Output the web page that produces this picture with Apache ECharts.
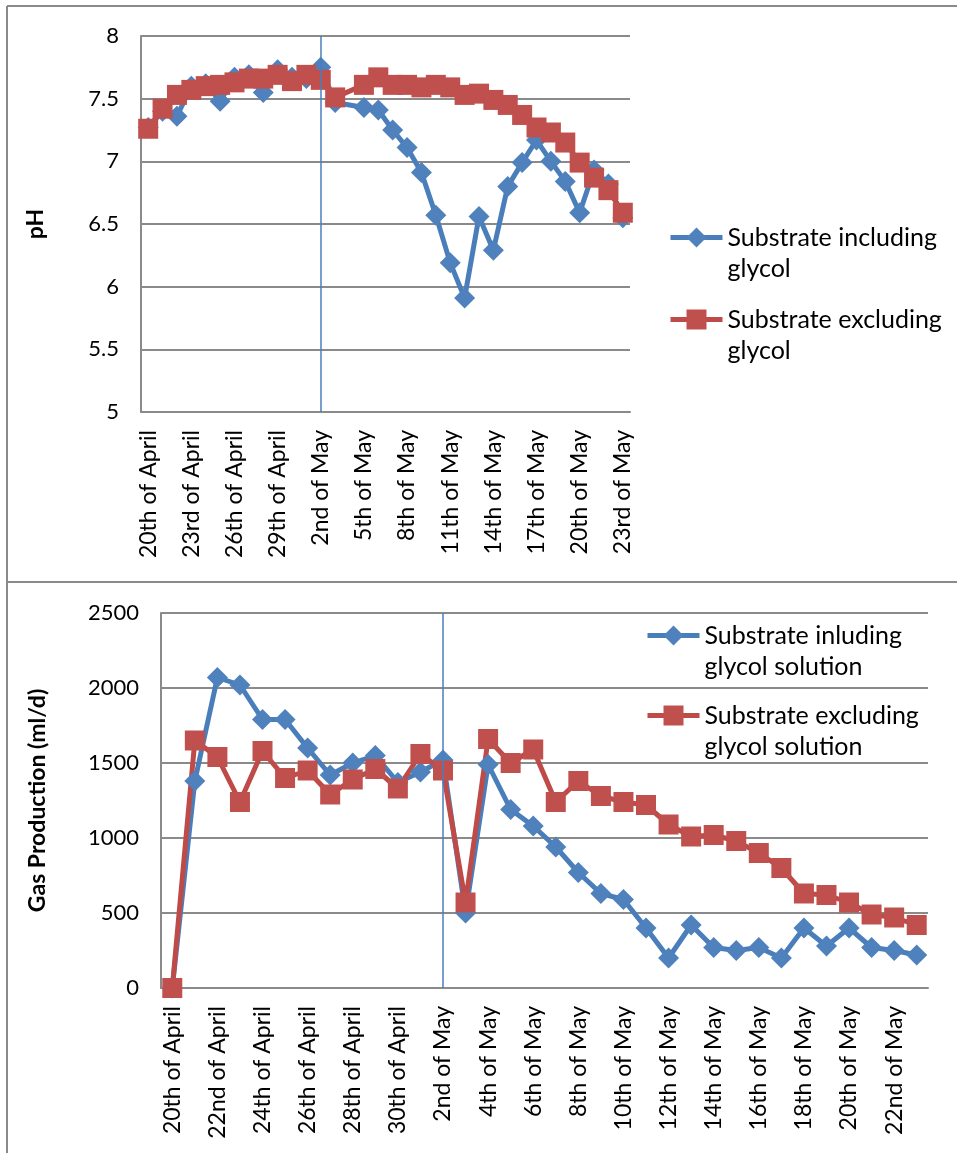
<!DOCTYPE html>
<html>
<head>
<meta charset="utf-8">
<script src="https://cdn.jsdelivr.net/npm/echarts@6/dist/echarts.min.js"></script>
<style>
  html, body { margin: 0; padding: 0; background: #ffffff; }
  #chart { width: 957px; height: 1153px; }
</style>
</head>
<body>
<div id="chart"></div>
<script>
// Sampling days, 20 April to 23 May
const days = [
  '20th of April', '21st of April', '22nd of April', '23rd of April', '24th of April',
  '25th of April', '26th of April', '27th of April', '28th of April', '29th of April',
  '30th of April', '1st of May', '2nd of May', '3rd of May', '4th of May',
  '5th of May', '6th of May', '7th of May', '8th of May', '9th of May',
  '10th of May', '11th of May', '12th of May', '13th of May', '14th of May',
  '15th of May', '16th of May', '17th of May', '18th of May', '19th of May',
  '20th of May', '21st of May', '22nd of May', '23rd of May'
];

// Day on which the substrate feed changed
const switchDay = '2nd of May';

// pH readings (no reading on 4th of May)
const phIncludingGlycol = [
  7.27, 7.40, 7.36, 7.60, 7.62, 7.48, 7.67, 7.69, 7.55, 7.73,
  7.67, 7.66, 7.75, 7.47, null, 7.43, 7.41, 7.25, 7.11, 6.91,
  6.57, 6.19, 5.91, 6.56, 6.29, 6.80, 6.99, 7.17, 7.00, 6.84,
  6.59, 6.93, 6.82, 6.55
];
const phExcludingGlycol = [
  7.26, 7.42, 7.53, 7.57, 7.60, 7.61, 7.63, 7.66, 7.66, 7.69,
  7.64, 7.69, 7.65, 7.51, null, 7.61, 7.67, 7.61, 7.61, 7.59,
  7.61, 7.59, 7.53, 7.54, 7.49, 7.45, 7.37, 7.27, 7.23, 7.15,
  6.99, 6.87, 6.77, 6.59
];

// Daily gas production, ml/d
const gasIncludingGlycol = [
  0, 1380, 2070, 2020, 1790, 1790, 1600, 1420, 1500, 1550,
  1370, 1440, 1520, 500, 1490, 1190, 1080, 940, 770, 630,
  590, 400, 200, 420, 270, 250, 270, 200, 400, 280,
  400, 270, 250, 220
];
const gasExcludingGlycol = [
  0, 1650, 1540, 1240, 1580, 1400, 1450, 1290, 1390, 1460,
  1330, 1560, 1450, 570, 1660, 1500, 1590, 1240, 1380, 1280,
  1240, 1220, 1090, 1010, 1020, 980, 900, 800, 630, 620,
  570, 490, 470, 420
];

// Axis ranges
const phAxis = { min: 5, max: 8, interval: 0.5 };
const gasAxis = { min: 0, max: 2500, interval: 500 };

// Series names and their wrapped legend captions
const phNames = ['Substrate including glycol', 'Substrate excluding glycol'];
const gasNames = ['Substrate inluding glycol solution', 'Substrate excluding glycol solution'];
const captions = {
  'Substrate including glycol': ['Substrate including', 'glycol'],
  'Substrate excluding glycol': ['Substrate excluding', 'glycol'],
  'Substrate inluding glycol solution': ['Substrate inluding', 'glycol solution'],
  'Substrate excluding glycol solution': ['Substrate excluding', 'glycol solution']
};

const FONT = 'Lato';
const GRID_GREY = '#8a8a8a';
const BLUE_LINE = '#4A7EBB', BLUE_MARK = '#4F81BD';
const RED_LINE = '#BE4B48', RED_MARK = '#C0504D';

function catAxis(gridIndex, every) {
  return {
    type: 'category', gridIndex, data: days, boundaryGap: true,
    axisLine: { lineStyle: { color: GRID_GREY, width: 2 } },
    axisTick: { show: false },
    splitLine: { show: false },
    axisLabel: {
      interval: every - 1, rotate: 90, margin: 18,
      fontFamily: FONT, fontSize: 23, color: '#000'
    }
  };
}

function valAxis(gridIndex, range, name, gap) {
  return {
    type: 'value', gridIndex, min: range.min, max: range.max, interval: range.interval,
    name, nameLocation: 'middle', nameGap: gap,
    nameTextStyle: { fontFamily: FONT, fontSize: 23, fontWeight: 'bold', color: '#000' },
    axisLine: { show: true, lineStyle: { color: GRID_GREY, width: 2 } },
    axisTick: { show: false },
    splitLine: { lineStyle: { color: GRID_GREY, width: 2 } },
    axisLabel: {
      margin: 22, fontFamily: FONT, fontSize: 22, color: '#000',
      formatter: v => String(v)
    }
  };
}

function lineSeries(name, data, idx, symbol, lineColor, markColor, withSwitch) {
  const s = {
    name, type: 'line', data, xAxisIndex: idx, yAxisIndex: idx,
    connectNulls: true,
    symbol, symbolSize: symbol === 'rect' ? 20 : 21,
    showAllSymbol: true,
    lineStyle: { color: lineColor, width: 5 },
    itemStyle: { color: markColor },
    emphasis: { disabled: true }
  };
  if (withSwitch) {
    s.markLine = {
      silent: true, symbol: 'none', label: { show: false },
      lineStyle: { color: BLUE_LINE, width: 1.5, type: 'solid' },
      data: [{ xAxis: switchDay }]
    };
  }
  return s;
}

// Legend item: the marker sits beside the first caption line
// (an empty leading line keeps the first line centred on the marker).
function legendFor(name, left, top) {
  return {
    data: [name], orient: 'vertical', left, top, padding: 0,
    itemWidth: 52, itemHeight: 25, selectedMode: false,
    lineStyle: { width: 5 },
    formatter: n => '\n' + captions[n].join('\n'),
    textStyle: { fontFamily: FONT, fontSize: 25, color: '#000', lineHeight: 31 }
  };
}

const chart = echarts.init(document.getElementById('chart'), null, { renderer: 'canvas' });

chart.setOption({
  animation: false,
  backgroundColor: '#ffffff',
  grid: [
    { left: 141, top: 36, width: 489, height: 376 },
    { left: 161, top: 613, width: 767, height: 375 }
  ],
  xAxis: [catAxis(0, 3), catAxis(1, 2)],
  yAxis: [valAxis(0, phAxis, 'pH', 94), valAxis(1, gasAxis, 'Gas Production (ml/d)', 112)],
  legend: [
    legendFor(phNames[0], 668, 191),
    legendFor(phNames[1], 668, 273),
    legendFor(gasNames[0], 645, 589),
    legendFor(gasNames[1], 645, 669)
  ],
  series: [
    lineSeries(phNames[0], phIncludingGlycol, 0, 'diamond', BLUE_LINE, BLUE_MARK, true),
    lineSeries(phNames[1], phExcludingGlycol, 0, 'rect', RED_LINE, RED_MARK, false),
    lineSeries(gasNames[0], gasIncludingGlycol, 1, 'diamond', BLUE_LINE, BLUE_MARK, true),
    lineSeries(gasNames[1], gasExcludingGlycol, 1, 'rect', RED_LINE, RED_MARK, false)
  ],
  // Frame around the two panels
  graphic: [
    { type: 'line', shape: { x1: 7, y1: 6, x2: 957, y2: 6 }, style: { stroke: GRID_GREY, lineWidth: 2 } },
    { type: 'line', shape: { x1: 7, y1: 6, x2: 7, y2: 1153 }, style: { stroke: GRID_GREY, lineWidth: 2 } },
    { type: 'line', shape: { x1: 7, y1: 582, x2: 957, y2: 582 }, style: { stroke: GRID_GREY, lineWidth: 2 } }
  ]
});
</script>
</body>
</html>
